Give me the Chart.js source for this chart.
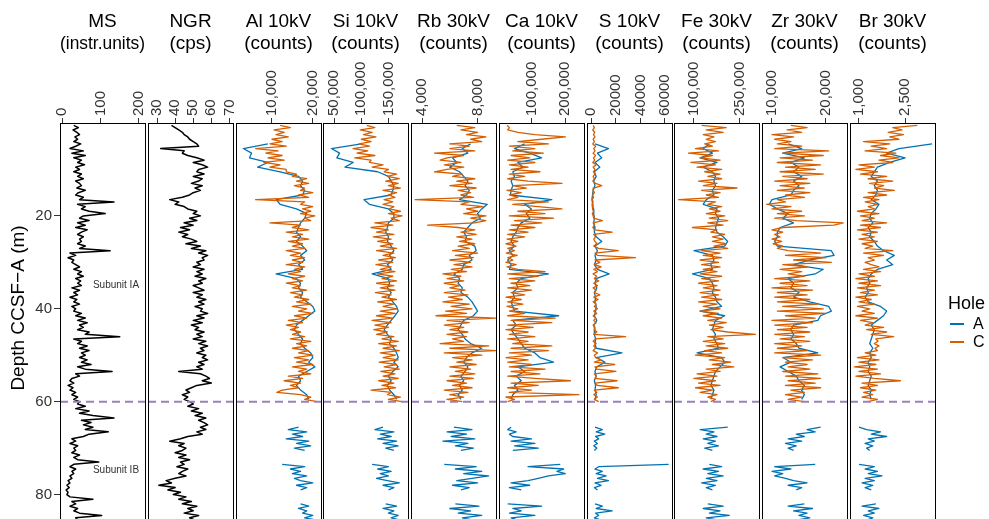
<!DOCTYPE html>
<html lang="en">
<head>
<meta charset="utf-8">
<title>Core logs: MS, NGR and XRF counts</title>
<script src="https://cdn.jsdelivr.net/npm/chart.js@4.4.1/dist/chart.umd.min.js"></script>
<style>
  html, body { margin: 0; padding: 0; background: #fff; overflow: hidden; }
  #figure { position: relative; width: 989px; height: 541px; font-family: 'Liberation Sans', Arial, sans-serif; }
  #figure canvas { position: absolute; top: 0; }
  .legend-title { position: absolute; left: 948px; top: 292px; font-size: 18px; line-height: 22px; color: #000; }
  .legend-row { position: absolute; left: 950px; width: 40px; height: 18px; font-size: 16px; line-height: 18px; color: #000; }
  .legend-key { position: absolute; left: 0; top: 8px; width: 14px; height: 2px; }
  .legend-label { position: absolute; left: 23px; top: 0; }
</style>
</head>
<body>
<div id="figure"></div>
<script>
{
  'use strict';

  // depth (m CCSF-A) of the MS / NGR logs, every 0.5 m
  const depthLog = [
    0.5, 1, 1.5, 2, 2.5, 3, 3.5, 4, 4.5, 5,
    5.5, 6, 6.5, 7, 7.5, 8, 8.5, 9, 9.5, 10,
    10.5, 11, 11.5, 12, 12.5, 13, 13.5, 14, 14.5, 15,
    15.5, 16, 16.5, 17, 17.5, 18, 18.5, 19, 19.5, 20,
    20.5, 21, 21.5, 22, 22.5, 23, 23.5, 24, 24.5, 25,
    25.5, 26, 26.5, 27, 27.5, 28, 28.5, 29, 29.5, 30,
    30.5, 31, 31.5, 32, 32.5, 33, 33.5, 34, 34.5, 35,
    35.5, 36, 36.5, 37, 37.5, 38, 38.5, 39, 39.5, 40,
    40.5, 41, 41.5, 42, 42.5, 43, 43.5, 44, 44.5, 45,
    45.5, 46, 46.5, 47, 47.5, 48, 48.5, 49, 49.5, 50,
    50.5, 51, 51.5, 52, 52.5, 53, 53.5, 54, 54.5, 55,
    55.5, 56, 56.5, 57, 57.5, 58, 58.5, 59, 59.5, 60,
    60.5, 61, 61.5, 62, 62.5, 63, 63.5, 64, 64.5, 65,
    65.5, 66, 66.5, 67, 67.5, 68, 68.5, 69, 69.5, 70,
    70.5, 71, 71.5, 72, 72.5, 73, 73.5, 74, 74.5, 75,
    75.5, 76, 76.5, 77, 77.5, 78, 78.5, 79, 79.5, 80,
    80.5, 81, 81.5, 82, 82.5, 83, 83.5, 84, 84.5, 85,
    85.5, 86
  ];

  const msValues = [
    30, 42, 28, 38, 45, 33, 40, 30, 48, 35,
    20, 55, 25, 60, 30, 50, 40, 58, 35, 45,
    30, 50, 40, 55, 35, 45, 50, 38, 60, 42,
    35, 55, 45, 135, 40, 60, 50, 70, 112, 55,
    45, 70, 40, 60, 35, 65, 50, 40, 55, 45,
    50, 40, 60, 45, 125, 20, 35, 15, 30, 25,
    35, 45, 30, 50, 40, 55, 35, 48, 40, 50,
    25, 45, 30, 40, 20, 38, 30, 45, 25, 35,
    30, 50, 35, 60, 40, 65, 45, 55, 40, 70,
    60, 150, 30, 50, 40, 65, 45, 70, 50, 60,
    45, 65, 50, 75, 40, 60, 130, 35, 45, 25,
    20, 30, 15, 28, 20, 35, 25, 40, 30, 45,
    40, 60, 35, 70, 45, 80, 135, 50, 75, 55,
    80, 60, 120, 70, 55, 25, 35, 20, 40, 30,
    35, 25, 45, 30, 40, 95, 30, 20, 35, 25,
    30, 20, 25, 15, 20, 12, 18, 10, 15, 12,
    20, 80, 25, 35, 20, 40, 30, 45, 103, 35,
    40, 30
  ];

  const ngrValues = [
    38, 40, 42, 44, 45, 47, 48, 50, 52, 53,
    32, 45, 44, 47, 52, 56, 50, 55, 58, 53,
    52, 56, 50, 55, 53, 49, 55, 51, 54, 50,
    48, 44, 37, 42, 40, 45, 47, 52, 50, 54,
    48, 52, 45, 50, 43, 48, 42, 47, 44, 49,
    52, 46, 54, 49, 57, 53, 58, 55, 56, 52,
    54, 50, 56, 52, 55, 51, 57, 53, 55, 50,
    53, 56, 50, 55, 52, 57, 53, 56, 51, 55,
    54, 58, 52, 56, 50, 55, 49, 53, 51, 56,
    52, 55, 50, 57, 53, 58, 54, 56, 52, 57,
    55, 58, 53, 56, 52, 55, 42, 54, 57, 59,
    55, 60, 52, 49, 46, 48, 44, 47, 45, 48,
    50, 47, 53, 49, 55, 51, 57, 53, 56, 58,
    54, 57, 52, 55, 47, 43, 37, 45, 42, 46,
    44, 40, 46, 42, 48, 43, 45, 41, 47, 44,
    42, 46, 40, 35, 38, 31, 40, 36, 43, 39,
    46, 42, 49, 44, 52, 47, 50, 45, 53, 48,
    51, 47
  ];

  // XRF depths: hole C every 0.5 m (0-60 m), hole A (null = core gap)
  const depthC = [
    0.5, 1, 1.5, 2, 2.5, 3, 3.5, 4, 4.5, 5,
    5.5, 6, 6.5, 7, 7.5, 8, 8.5, 9, 9.5, 10,
    10.5, 11, 11.5, 12, 12.5, 13, 13.5, 14, 14.5, 15,
    15.5, 16, 16.5, 17, 17.5, 18, 18.5, 19, 19.5, 20,
    20.5, 21, 21.5, 22, 22.5, 23, 23.5, 24, 24.5, 25,
    25.5, 26, 26.5, 27, 27.5, 28, 28.5, 29, 29.5, 30,
    30.5, 31, 31.5, 32, 32.5, 33, 33.5, 34, 34.5, 35,
    35.5, 36, 36.5, 37, 37.5, 38, 38.5, 39, 39.5, 40,
    40.5, 41, 41.5, 42, 42.5, 43, 43.5, 44, 44.5, 45,
    45.5, 46, 46.5, 47, 47.5, 48, 48.5, 49, 49.5, 50,
    50.5, 51, 51.5, 52, 52.5, 53, 53.5, 54, 54.5, 55,
    55.5, 56, 56.5, 57, 57.5, 58, 58.5, 59, 59.5, 60
  ];

  const depthA = [
    4.5, 5.5, 6.5, 7.5, 8.5, 9.5, 10.5, 11.5, 12.5, 13.5,
    14.5, 15.5, 16.5, 17.5, 18.5, 19.5, 20.5, 21.5, 22.5, 23.5,
    24.5, 25.5, 26.5, 27.5, 28.5, 29.5, 30.5, 31.5, 32.5, 33.5,
    34.5, 35.5, 36.5, 37.5, 38.5, 39.5, 40.5, 41.5, 42.5, 43.5,
    44.5, 45.5, 46.5, 47.5, 48.5, 49.5, 50.5, 51.5, 52.5, 53.5,
    54.5, 55.5, 56.5, 57.5, 58.5, 59.5,
    null,
    65.5, 66, 66.5, 67, 67.5, 68, 68.5, 69, 69.5, 70, 70.5,
    null,
    73.5, 74, 74.5, 75, 75.5, 76, 76.5, 77, 77.5, 78, 78.5, 79,
    null,
    82, 82.5, 83, 83.5, 84, 84.5, 85, 85.5, 86
  ];

  const alC = [
    12000, 14500, 10500, 13000, 11000, 14000, 10000, 12500, 9500, 13500,
    6000, 11500, 8500, 12500, 9000, 13000, 8000, 12000, 9500, 13500,
    13500, 16000, 15000, 18500, 16000, 19000, 15500, 18000, 17000, 20000,
    16500, 19000, 6000, 18000, 17000, 20000, 17500, 19500, 17000, 20500,
    18000, 19500, 9500, 17000, 15000, 19000, 13500, 17500, 15000, 19000,
    14000, 17500, 15000, 18000, 13500, 17000, 14500, 18000, 15000, 17500,
    13500, 18000, 15500, 17000, 14000, 18000, 15000, 17500, 13500, 17000,
    15000, 18500, 14500, 17500, 15500, 19000, 16000, 19500, 15000, 18500,
    16500, 20000, 15500, 18500, 14000, 17500, 13500, 16500, 14500, 17000,
    15000, 18000, 14500, 19500, 16000, 18500, 15000, 19000, 16500, 20000,
    15500, 19000, 16000, 20000, 15000, 18500, 16500, 19500, 14000, 17500,
    13000, 17000, 14500, 16500, 12500, 11200, 17000, 19500, 18000, 21000
  ];
  const alA = [
    9000, 3000, 5000, 4500, 9000, 6500, 12000, 16500, 17500, 17000,
    18000, 17500, 11000, 12000, 16000, 18500, 18000, 17000, 16500, 16000,
    17000, 16000, 17500, 18500, 17000, 18000, 16500, 17500, 11000, 16000,
    17000, 16500, 17500, 17000, 18500, 20000, 20500, 19000, 17500, 16000,
    15500, 16500, 17500, 17000, 18000, 19500, 20000, 19000, 20500, 18500,
    16500, 17000, 16000, 17000, 18500, 19000,
    null,
    16500, 14000, 18500, 15000, 17500, 13500, 19000, 16000, 19500, 15500, 18000,
    null,
    12500, 18000, 14500, 17000, 15000, 18500, 15500, 17000, 20000, 16000, 18500, 17000,
    null,
    17000, 19000, 16500, 18500, 17500, 20000, 18000, 21000, 19000
  ];

  const siC = [
    110000, 125000, 98000, 120000, 104000, 127000, 100000, 118000, 96000, 115000,
    85000, 112000, 92000, 125000, 88000, 118000, 115000, 140000, 120000, 150000,
    142000, 165000, 148000, 170000, 145000, 168000, 150000, 172000, 140000, 165000,
    150000, 162000, 142000, 158000, 140000, 160000, 152000, 172000, 150000, 175000,
    155000, 170000, 125000, 158000, 118000, 150000, 128000, 160000, 122000, 155000,
    130000, 158000, 135000, 165000, 128000, 160000, 140000, 163000, 132000, 158000,
    127000, 155000, 135000, 162000, 130000, 158000, 138000, 165000, 128000, 160000,
    135000, 162000, 126000, 155000, 138000, 165000, 130000, 160000, 140000, 166000,
    135000, 162000, 128000, 158000, 120000, 155000, 125000, 150000, 123000, 148000,
    128000, 160000, 138000, 168000, 132000, 165000, 140000, 170000, 135000, 163000,
    140000, 168000, 133000, 165000, 142000, 170000, 136000, 162000, 140000, 168000,
    132000, 160000, 138000, 163000, 118000, 155000, 148000, 172000, 150000, 175000
  ];
  const siA = [
    100000, 45000, 60000, 55000, 85000, 70000, 130000, 150000, 155000, 160000,
    158000, 155000, 105000, 115000, 150000, 160000, 160000, 150000, 148000, 145000,
    150000, 148000, 155000, 160000, 152000, 158000, 148000, 155000, 120000, 150000,
    152000, 148000, 155000, 150000, 158000, 165000, 168000, 162000, 155000, 148000,
    142000, 148000, 155000, 152000, 160000, 165000, 168000, 160000, 168000, 158000,
    150000, 155000, 148000, 152000, 160000, 165000,
    null,
    140000, 125000, 160000, 135000, 155000, 130000, 165000, 140000, 168000, 145000, 160000,
    null,
    120000, 150000, 130000, 155000, 135000, 150000, 128000, 148000, 170000, 140000, 160000, 150000,
    null,
    145000, 165000, 140000, 160000, 150000, 168000, 155000, 172000, 160000
  ];

  const rbC = [
    6500, 7800, 6800, 8000, 7200, 8600, 7500, 8300, 6000, 7400,
    6000, 7800, 4900, 7000, 5800, 5300, 6800, 5600, 7000, 5800,
    4900, 6900, 6200, 7800, 6500, 7600, 6000, 7900, 6600, 7500,
    6800, 7700, 3500, 7400, 6800, 8400, 7200, 8000, 7000, 8600,
    7500, 8600, 7800, 4400, 6600, 7800, 6800, 7900, 6500, 7600,
    6700, 7800, 6600, 7400, 6200, 8000, 6400, 7700, 6000, 7500,
    6300, 7600, 6100, 7200, 5500, 6800, 5800, 7000, 5600, 6700,
    6000, 7100, 5600, 7300, 5900, 6900, 5500, 7400, 6100, 7600,
    5700, 7200, 5000, 9300, 5800, 7400, 5600, 7000, 6000, 7300,
    5800, 7200, 6200, 7000, 5300, 8800, 6000, 9300, 5600, 8300,
    6200, 7600, 6500, 7900, 6000, 7500, 6400, 7800, 6000, 7700,
    5800, 7200, 6200, 7600, 5600, 7300, 6000, 7000, 5800, 6900
  ];
  const rbA = [
    7500, 6900, 7300, 6200, 6500, 6000, 6700, 7000, 7300, 7100,
    7400, 7200, 6700, 8700, 8300, 8000, 8200, 7600, 7300, 7000,
    7200, 7100, 7800, 7900, 7400, 7600, 7000, 6900, 6300, 6700,
    6600, 6900, 6800, 7300, 7600, 7800, 8000, 7700, 7000, 6800,
    6600, 6900, 7100, 7500, 8300, 7600, 7200, 7000, 7300, 7100,
    6800, 7000, 6700, 6900, 6600, 6800,
    null,
    6300, 7600, 5800, 7200, 6100, 7800, 5500, 7300, 6400, 7700, 6800,
    null,
    5600, 7900, 6400, 8300, 7000, 8800, 7600, 6500, 8000, 6200, 7400, 6800,
    null,
    6400, 8100, 6000, 7500, 6600, 8300, 6900, 7700, 6500
  ];

  const caC = [
    28000, 35000, 30000, 60000, 110000, 200000, 130000, 60000, 150000, 35000,
    110000, 45000, 135000, 40000, 95000, 30000, 110000, 35000, 90000, 40000,
    125000, 35000, 80000, 30000, 90000, 190000, 45000, 85000, 28000, 70000,
    35000, 60000, 30000, 150000, 45000, 120000, 190000, 60000, 140000, 35000,
    165000, 50000, 130000, 40000, 110000, 35000, 90000, 30000, 80000, 28000,
    60000, 25000, 55000, 30000, 50000, 26000, 58000, 30000, 45000, 25000,
    55000, 28000, 60000, 140000, 30000, 120000, 35000, 110000, 40000, 95000,
    30000, 100000, 40000, 80000, 25000, 70000, 30000, 75000, 28000, 60000,
    35000, 80000, 30000, 170000, 40000, 160000, 30000, 105000, 25000, 90000,
    35000, 110000, 30000, 90000, 45000, 160000, 40000, 150000, 35000, 100000,
    25000, 90000, 30000, 100000, 35000, 140000, 40000, 125000, 30000, 110000,
    215000, 40000, 120000, 30000, 100000, 35000, 240000, 25000, 50000, 30000
  ];
  const caA = [
    80000, 50000, 95000, 130000, 60000, 75000, 45000, 50000, 40000, 45000,
    40000, 38000, 160000, 80000, 100000, 85000, 95000, 70000, 60000, 55000,
    45000, 40000, 50000, 35000, 45000, 30000, 40000, 35000, 150000, 70000,
    55000, 60000, 45000, 50000, 40000, 45000, 50000, 180000, 45000, 55000,
    40000, 50000, 60000, 70000, 80000, 110000, 125000, 165000, 60000, 80000,
    55000, 70000, 50000, 60000, 45000, 40000,
    null,
    40000, 30000, 55000, 35000, 45000, 100000, 40000, 110000, 50000, 120000, 45000,
    null,
    185000, 90000, 195000, 175000, 200000, 150000, 120000, 90000, 40000, 95000, 35000, 70000,
    null,
    30000, 130000, 45000, 70000, 35000, 110000, 40000, 60000, 35000
  ];

  const sC = [
    1500, 2500, 1200, 2800, 1800, 3000, 1500, 2500, 1200, 3500,
    2000, 3000, 1500, 3500, 1800, 2800, 1200, 4000, 1500, 3000,
    1800, 3000, 1500, 2500, 1200, 3500, 8500, 2000, 1500, 2500,
    1000, 1800, 800, 1500, 600, 1200, 1000, 2000, 800, 1500,
    2000, 9000, 1500, 2500, 1200, 3000, 17000, 2000, 3500, 2000,
    3000, 4500, 2000, 6000, 22000, 3000, 5000, 36000, 3000, 7000,
    2500, 8000, 2000, 5000, 1500, 4500, 2500, 6000, 2000, 5000,
    1500, 4000, 2500, 7000, 2000, 5500, 1500, 4000, 2500, 5000,
    2000, 4500, 1500, 3500, 2000, 4000, 1500, 3000, 2500, 4500,
    2000, 28000, 3500, 1500, 4000, 2000, 3500, 1500, 5000, 2500,
    3500, 8000, 2500, 19000, 3000, 4500, 20000, 2500, 4000, 3000,
    21000, 3000, 5000, 22000, 2500, 4500, 2000, 5000, 2500, 6000
  ];
  const sA = [
    3000, 14000, 5000, 8500, 3000, 7000, 2500, 4000, 2000, 3000,
    1500, 1000, 500, 1200, 1500, 2000, 2500, 2000, 3000, 2500,
    4000, 8500, 3000, 5000, 3000, 4000, 2500, 5000, 14500, 4000,
    3000, 4500, 2500, 3500, 3000, 4000, 3500, 2500, 4500, 2000,
    3000, 2500, 3500, 3000, 4000, 25000, 4000, 11000, 4500, 3000,
    4000, 2500, 3500, 3000, 4000, 3000,
    null,
    3000, 9000, 4000, 11000, 3500, 6000, 2500, 5000, 2000, 4500, 2500,
    null,
    63000, 6000, 3000, 9000, 4000, 12000, 5000, 14000, 3000, 8000, 2500, 5000,
    null,
    3000, 9000, 4000, 17000, 3500, 6000, 2500, 8000, 3000
  ];

  const feC = [
    125000, 205000, 140000, 195000, 130000, 165000, 140000, 170000, 135000, 160000,
    105000, 180000, 82000, 160000, 120000, 185000, 90000, 170000, 110000, 190000,
    135000, 185000, 145000, 190000, 115000, 175000, 130000, 240000, 125000, 185000,
    140000, 180000, 50000, 170000, 145000, 190000, 150000, 185000, 140000, 200000,
    150000, 210000, 145000, 195000, 95000, 175000, 155000, 200000, 160000, 195000,
    160000, 205000, 165000, 210000, 125000, 185000, 130000, 190000, 120000, 180000,
    125000, 185000, 130000, 175000, 120000, 190000, 125000, 180000, 115000, 175000,
    130000, 185000, 120000, 180000, 125000, 190000, 115000, 175000, 130000, 185000,
    120000, 180000, 130000, 190000, 145000, 205000, 150000, 195000, 155000, 210000,
    300000, 145000, 195000, 130000, 200000, 140000, 210000, 135000, 190000, 105000,
    200000, 150000, 220000, 160000, 230000, 140000, 185000, 110000, 175000, 100000,
    170000, 115000, 185000, 105000, 160000, 120000, 175000, 145000, 170000, 155000
  ];
  const feA = [
    150000, 130000, 160000, 120000, 175000, 130000, 160000, 170000, 165000, 170000,
    160000, 165000, 140000, 130000, 175000, 170000, 180000, 175000, 170000, 175000,
    195000, 210000, 200000, 100000, 160000, 165000, 155000, 160000, 95000, 150000,
    160000, 165000, 160000, 170000, 175000, 190000, 120000, 200000, 170000, 165000,
    160000, 170000, 165000, 175000, 180000, 110000, 190000, 200000, 185000, 170000,
    165000, 160000, 155000, 165000, 160000, 155000,
    null,
    210000, 120000, 165000, 140000, 175000, 130000, 170000, 145000, 180000, 135000, 160000,
    null,
    150000, 190000, 130000, 180000, 145000, 195000, 140000, 175000, 125000, 170000, 140000, 160000,
    null,
    145000, 195000, 130000, 185000, 150000, 215000, 140000, 180000, 155000
  ];

  const zrC = [
    13500, 16500, 12800, 15500, 10000, 14000, 10500, 13500, 11000, 15500,
    10500, 20500, 12000, 19500, 11500, 17500, 11000, 19000, 12500, 18000,
    11500, 19500, 12000, 16500, 10500, 17000, 11500, 16000, 11000, 17000,
    12500, 16000, 11000, 12500, 9000, 13500, 10000, 15500, 11000, 16000,
    10500, 14500, 23200, 21500, 12000, 10000, 12000, 10500, 11500, 10000,
    11800, 10200, 12000, 11000, 13000, 19000, 12500, 20000, 14000, 21000,
    12000, 16500, 11500, 15500, 13000, 16000, 10500, 17000, 11500, 16500,
    10000, 17500, 11000, 16500, 10500, 17000, 11000, 18500, 12000, 19500,
    11000, 20000, 12500, 18000, 10000, 17500, 10500, 16500, 11000, 17000,
    10500, 16000, 11500, 17000, 10500, 15500, 11000, 16500, 10500, 19000,
    12000, 17500, 12500, 16500, 13000, 17000, 12000, 18500, 12500, 19000,
    13000, 18000, 12500, 19000, 13500, 16000, 12500, 15500, 13000, 16000
  ];
  const zrA = [
    13000, 15500, 12000, 16000, 13500, 15000, 14000, 15500, 14000, 15000,
    14000, 13500, 10000, 9500, 11000, 13000, 12000, 14000, 11500, 11000,
    11000, 10500, 11000, 21000, 21500, 17000, 14000, 19500, 18000, 13000,
    14000, 13500, 15000, 14000, 17000, 20500, 21000, 19000, 18500, 14000,
    13500, 14000, 13500, 14500, 15000, 18500, 12000, 13500, 11500, 13000,
    14500, 15000, 16000, 15500, 16000, 15500,
    null,
    19000, 16500, 18000, 14500, 16000, 13000, 15500, 12500, 14500, 13000, 14000,
    null,
    18000, 10500, 13500, 10000, 12000, 10500, 12500, 14000, 16500, 13000, 15500, 14500,
    null,
    16000, 13000, 17500, 14000, 16500, 15000, 17000, 14500, 16000
  ];

  const brC = [
    2900, 2100, 2400, 1950, 2450, 2000, 2300, 1150, 2000, 1400,
    1900, 1200, 2200, 1700, 2300, 1650, 2100, 1000, 1500, 900,
    1600, 1050, 1900, 1300, 2100, 1350, 1800, 1500, 2150, 1300,
    1900, 1150, 1650, 1200, 1600, 1300, 1500, 950, 1650, 1050,
    1500, 1100, 1900, 1050, 1700, 950, 1600, 1100, 1500, 1000,
    1600, 1100, 1450, 1200, 2100, 1150, 1800, 1300, 1500, 1200,
    1400, 1650, 1150, 1700, 1000, 1500, 900, 1600, 1000, 1700,
    950, 1500, 1050, 1600, 900, 1400, 1000, 1500, 950, 1350,
    1100, 1500, 900, 1600, 1050, 1450, 1200, 1800, 1250, 1900,
    1400, 2130, 1550, 1620, 1500, 1650, 1520, 1600, 1200, 1550,
    950, 1650, 1000, 1550, 850, 1600, 1000, 1700, 900, 1500,
    2350, 1100, 1600, 1050, 1550, 1150, 1450, 1100, 1600, 1300
  ];
  const brA = [
    3380, 2300, 1900, 2500, 2000, 1600, 1500, 1400, 1600, 1500,
    1600, 1550, 1400, 1650, 1550, 1400, 1350, 1450, 1300, 1400,
    1350, 1500, 1600, 1800, 2150, 1900, 2100, 1600, 1400, 1300,
    1350, 1250, 1300, 1200, 1300, 1700, 1900, 1800, 1600, 1400,
    1500, 1450, 1400, 1350, 1450, 1350, 1400, 1300, 1350, 1300,
    1400, 1350, 1300, 1400, 1350, 1400,
    null,
    1000, 1250, 1700, 1400, 1900, 1300, 1500, 1200, 1450, 1250, 1350,
    null,
    1000, 1500, 1200, 1600, 1300, 1750, 1200, 1500, 1100, 1450, 1200, 1400,
    null,
    1550, 1100, 1650, 1300, 1500, 1150, 1450, 1250, 1550
  ];

  // tick labels
  const depthTicks = [20, 40, 60, 80];
  const msTicks = [0, 100, 200];
  const ngrTicks = [30, 40, 50, 60, 70];
  const alTicks = [10000, 20000];
  const siTicks = [50000, 100000, 150000];
  const rbTicks = [4000, 8000];
  const caTicks = [100000, 200000];
  const sTicks = [0, 20000, 40000, 60000];
  const feTicks = [100000, 250000];
  const zrTicks = [10000, 20000];
  const brTicks = [1000, 2500];

  const holes = ['A', 'C'];
  const holeColors = { A: '#0072B2', C: '#D55E00' };
  const unitBoundary = 60;
  const subunitNotes = [
    { label: 'Subunit IA', depth: 35, ms: 80 },
    { label: 'Subunit IB', depth: 74.7, ms: 80 },
  ];

  // layout (px)
  const FIRST_BOX_LEFT = 60.3;
  const PANEL_PITCH = 87.7;
  const BOX_WIDTH = 85;
  const SIDE_PAD = 14;
  const CANVAS_HEIGHT = 541;
  const AXIS_HEIGHT = 68;
  const Y_AXIS_WIDTH = 60;
  const DEPTH_MAX = 90;
  const TICK_SIZE = 15;
  const TITLE_SIZE = 19;
  const TICK_COLOR = '#333333';
  const LOG_COLOR = '#000000';
  const BOUNDARY_COLOR = '#9a80bc';
  const FONT = '"Liberation Sans", Arial, Helvetica, sans-serif';

  Chart.defaults.font.family = FONT;
  Chart.defaults.color = TICK_COLOR;

  const grouped = function(value){ return value.toLocaleString('en-US'); };
  const plain = function(value){ return String(value); };

  const xrfSeries = function(cValues, aValues){
    return [
      { label: 'C', depth: depthC, values: cValues, color: holeColors.C },
      { label: 'A', depth: depthA, values: aValues, color: holeColors.A },
    ];
  };

  const panels = [
    { title: ['MS', '(instr.units)'], min: -6, max: 216, ticks: msTicks, format: plain,
      series: [{ label: 'MS', depth: depthLog, values: msValues, color: LOG_COLOR }] },
    { title: ['NGR', '(cps)'], min: 25, max: 72, ticks: ngrTicks, format: plain,
      series: [{ label: 'NGR', depth: depthLog, values: ngrValues, color: LOG_COLOR }] },
    { title: ['Al 10kV', '(counts)'], min: 1200, max: 22000, ticks: alTicks, format: grouped, series: xrfSeries(alC, alA) },
    { title: ['Si 10kV', '(counts)'], min: 29500, max: 186000, ticks: siTicks, format: grouped, series: xrfSeries(siC, siA) },
    { title: ['Rb 30kV', '(counts)'], min: 3200, max: 9330, ticks: rbTicks, format: grouped, series: xrfSeries(rbC, rbA) },
    { title: ['Ca 10kV', '(counts)'], min: 4300, max: 255000, ticks: caTicks, format: grouped, series: xrfSeries(caC, caA) },
    { title: ['S 10kV', '(counts)'], min: -3500, max: 65750, ticks: sTicks, format: plain, series: xrfSeries(sC, sA) },
    { title: ['Fe 30kV', '(counts)'], min: 34800, max: 312000, ticks: feTicks, format: grouped, series: xrfSeries(feC, feA) },
    { title: ['Zr 30kV', '(counts)'], min: 8150, max: 23900, ticks: zrTicks, format: grouped, series: xrfSeries(zrC, zrA) },
    { title: ['Br 30kV', '(counts)'], min: 708, max: 3474, ticks: brTicks, format: grouped, series: xrfSeries(brC, brA) },
  ];

  const toPoints = function(depths, values){
    return depths.map(function(depth, i){
      return depth === null ? { x: null, y: null } : { x: values[i], y: depth };
    });
  };

  // full box round every panel
  const panelFrame = {
    id: 'panelFrame',
    afterDraw: function(chart){
      const ctx = chart.ctx;
      const area = chart.chartArea;
      ctx.save();
      ctx.strokeStyle = '#000';
      ctx.lineWidth = 1;
      ctx.strokeRect(area.left + 0.5, area.top + 0.5, area.right - area.left, area.bottom - area.top + 10);
      ctx.restore();
    }
  };

  // subunit labels + depth axis title, drawn on the MS panel
  const figureNotes = {
    id: 'figureNotes',
    afterDraw: function(chart){
      const ctx = chart.ctx;
      const xScale = chart.scales.x;
      const yScale = chart.scales.y;
      ctx.save();
      ctx.fillStyle = '#333';
      ctx.font = '10px ' + FONT;
      ctx.textAlign = 'left';
      ctx.textBaseline = 'middle';
      for(let note of subunitNotes){
        ctx.fillText(note.label, xScale.getPixelForValue(note.ms), yScale.getPixelForValue(note.depth));
      }
      ctx.translate(19, 308);
      ctx.rotate(-Math.PI / 2);
      ctx.textAlign = 'center';
      ctx.fillStyle = '#000';
      ctx.font = TITLE_SIZE + 'px ' + FONT;
      ctx.fillText('Depth CCSF\u2212A (m)', 0, 0);
      ctx.restore();
    }
  };

  const buildPanel = function(panel, index){
    const figure = document.getElementById('figure');
    const isFirst = index === 0;
    const boxLeft = Math.round(FIRST_BOX_LEFT + PANEL_PITCH * index);
    const canvasLeft = isFirst ? 0 : boxLeft - SIDE_PAD;
    const canvasWidth = isFirst ? boxLeft + BOX_WIDTH + SIDE_PAD : BOX_WIDTH + 2 * SIDE_PAD;

    const canvas = document.createElement('canvas');
    canvas.width = canvasWidth;
    canvas.height = CANVAS_HEIGHT;
    canvas.style.left = canvasLeft + 'px';
    figure.appendChild(canvas);

    const datasets = [{
      label: 'Subunit boundary',
      data: [{ x: panel.min, y: unitBoundary }, { x: panel.max, y: unitBoundary }],
      borderColor: BOUNDARY_COLOR,
      borderWidth: 2,
      borderDash: [8, 5],
      pointRadius: 0,
    }];

    for(let series of panel.series){
      datasets.push({
        label: series.label,
        data: toPoints(series.depth, series.values),
        borderColor: series.color,
        borderWidth: series.color === LOG_COLOR ? 1.5 : 1.3,
        borderJoinStyle: 'round',
        pointRadius: 0,
        spanGaps: false,
        tension: 0,
      });
    }

    // eslint-disable-next-line no-unused-vars
    const chart = new Chart(canvas, {
      type: 'line',
      data: { datasets: datasets },
      options: {
        responsive: false,
        animation: false,
        events: [],
        layout: {
          padding: { left: isFirst ? 0 : SIDE_PAD, right: SIDE_PAD, top: 0, bottom: 0 },
        },
        plugins: {
          legend: { display: false },
          tooltip: { enabled: false },
          title: {
            display: true,
            text: panel.title,
            fullSize: false,
            color: '#000',
            font: { size: TITLE_SIZE, weight: 'normal', lineHeight: 22 / TITLE_SIZE },
            padding: { top: 11, bottom: 0 },
          },
        },
        scales: {
          x: {
            type: 'linear',
            position: 'top',
            min: panel.min,
            max: panel.max,
            afterBuildTicks: function(scale){
              scale.ticks = panel.ticks.map(function(v){ return { value: v }; });
            },
            afterFit: function(scale){
              scale.height = AXIS_HEIGHT;
              scale.paddingLeft = 0;
              scale.paddingRight = 0;
            },
            ticks: {
              autoSkip: false,
              minRotation: 90,
              maxRotation: 90,
              padding: 2,
              // rotated labels on a top axis come out one line height to the left
              labelOffset: TICK_SIZE * 1.2,
              color: TICK_COLOR,
              font: { size: TICK_SIZE },
              callback: function(value){ return panel.format(value); },
            },
            grid: { drawOnChartArea: false, drawTicks: true, tickLength: 5, color: TICK_COLOR },
            border: { display: false },
          },
          y: {
            type: 'linear',
            reverse: true,
            min: 0,
            max: DEPTH_MAX,
            display: isFirst,
            afterBuildTicks: function(scale){
              scale.ticks = depthTicks.map(function(v){ return { value: v }; });
            },
            afterFit: function(scale){
              if(isFirst){
                scale.width = Y_AXIS_WIDTH;
                scale.paddingTop = 0;
                scale.paddingBottom = 0;
              }
            },
            ticks: { padding: 2, color: TICK_COLOR, font: { size: TICK_SIZE } },
            grid: { drawOnChartArea: false, drawTicks: true, tickLength: 6, color: TICK_COLOR },
            border: { display: false },
          },
        },
      },
      plugins: isFirst ? [panelFrame, figureNotes] : [panelFrame],
    });
  };

  panels.forEach(buildPanel);


  const buildLegend = function(){
    const figure = document.getElementById('figure');

    const title = document.createElement('div');
    title.className = 'legend-title';
    title.textContent = 'Hole';
    figure.appendChild(title);

    holes.forEach(function(hole, i){
      const row = document.createElement('div');
      row.className = 'legend-row';
      row.style.top = (315 + i * 18) + 'px';

      const key = document.createElement('span');
      key.className = 'legend-key';
      key.style.background = holeColors[hole];

      const label = document.createElement('span');
      label.className = 'legend-label';
      label.textContent = hole;

      row.appendChild(key);
      row.appendChild(label);
      figure.appendChild(row);
    });
  };

  buildLegend();
}
</script>
</body>
</html>
